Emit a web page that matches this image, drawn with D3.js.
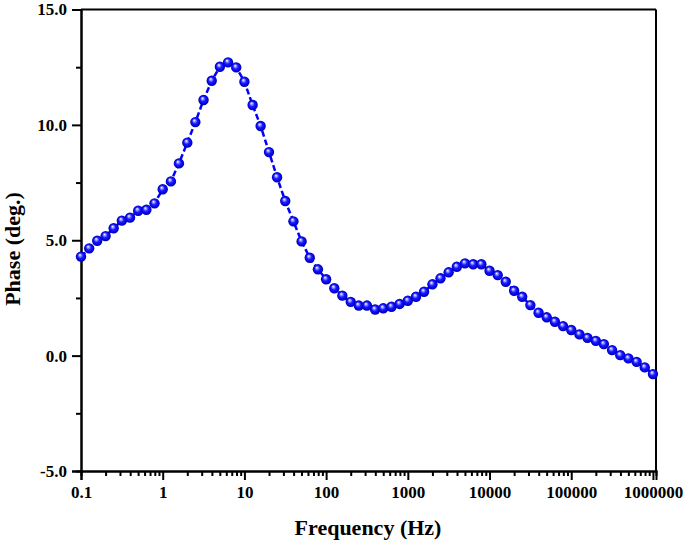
<!DOCTYPE html>
<html>
<head>
<meta charset="utf-8">
<script src="https://cdn.jsdelivr.net/npm/d3@7"></script>
<style>
  html, body { margin: 0; padding: 0; background: #fff; }
  svg { display: block; }
  text { font-family: "Liberation Serif", "Times New Roman", serif; font-weight: bold; fill: #000; }
</style>
</head>
<body>
<svg id="chart" width="685" height="544"></svg>
<script>
// ---- data ----
const frequencies = [
  0.1, 0.126, 0.158, 0.2, 0.251, 0.316, 0.398, 0.501, 0.631, 0.794,
  1, 1.26, 1.58, 2, 2.51, 3.16, 3.98, 5.01, 6.31, 7.94,
  10, 12.6, 15.8, 20, 25.1, 31.6, 39.8, 50.1, 63.1, 79.4,
  100, 126, 158, 200, 251, 316, 398, 501, 631, 794,
  1000, 1260, 1580, 2000, 2510, 3160, 3980, 5010, 6310, 7940,
  10000, 12600, 15800, 20000, 25100, 31600, 39800, 50100, 63100, 79400,
  100000, 126000, 158000, 200000, 251000, 316000, 398000, 501000, 631000, 794000,
  1000000
];
const phase = [
  4.29, 4.65, 4.98, 5.18, 5.52, 5.85, 5.98, 6.28, 6.32, 6.60,
  7.21, 7.55, 8.33, 9.23, 10.12, 11.08, 11.91, 12.52, 12.71, 12.49,
  11.87, 10.86, 9.95, 8.82, 7.73, 6.70, 5.82, 4.95, 4.24, 3.74,
  3.31, 2.92, 2.60, 2.33, 2.17, 2.17, 2.00, 2.05, 2.12, 2.24,
  2.38, 2.55, 2.77, 3.09, 3.35, 3.61, 3.85, 4.00, 3.96, 3.96,
  3.68, 3.49, 3.20, 2.81, 2.55, 2.19, 1.86, 1.66, 1.47, 1.28,
  1.11, 0.92, 0.77, 0.64, 0.50, 0.24, 0.02, -0.12, -0.27, -0.51,
  -0.80
];
const xTickValues = [0.1, 1, 10, 100, 1000, 10000, 100000, 1000000];
const xTickLabels = ["0.1", "1", "10", "100", "1000", "10000", "100000", "1000000"];
const yTickValues = [-5, 0, 5, 10, 15];
const yTickLabels = ["-5.0", "0.0", "5.0", "10.0", "15.0"];
const yMinorValues = [-2.5, 2.5, 7.5, 12.5];
const xTitle = "Frequency (Hz)";
const yTitle = "Phase (deg.)";

(function () {
const data = frequencies.map((f, i) => ({ f, v: phase[i] }));

// ---- layout ----
const pLeft = 81, pRight = 656, pTop = 9.5, pBottom = 471;
const svg = d3.select("#chart");

const x = d3.scaleLog().domain([0.1, 1.09e6]).range([pLeft, pRight]);
const y = d3.scaleLinear().domain([-5, 15]).range([pBottom, pTop]);

// gradient for spheres
const defs = svg.append("defs");
const grad = defs.append("radialGradient")
  .attr("id", "ball").attr("cx", "50%").attr("cy", "50%").attr("r", "50%")
  .attr("fx", "38%").attr("fy", "32%");
grad.append("stop").attr("offset", "0%").attr("stop-color", "#ffffff");
grad.append("stop").attr("offset", "22%").attr("stop-color", "#9a9aff");
grad.append("stop").attr("offset", "50%").attr("stop-color", "#1a1aff");
grad.append("stop").attr("offset", "85%").attr("stop-color", "#0000e0");
grad.append("stop").attr("offset", "100%").attr("stop-color", "#00009a");

// frame (top & right)
svg.append("line").attr("x1", pLeft).attr("x2", pRight).attr("y1", pTop).attr("y2", pTop)
  .attr("stroke", "#000").attr("stroke-width", 2);
svg.append("line").attr("x1", pRight).attr("x2", pRight).attr("y1", pTop).attr("y2", pBottom)
  .attr("stroke", "#000").attr("stroke-width", 2);

// x axis
const xMinor = [];
for (let d = -1; d < 6; d++) for (let m = 2; m <= 9; m++) xMinor.push(m * Math.pow(10, d));

const xAxisG = svg.append("g").attr("transform", `translate(0,${pBottom})`);
xAxisG.call(d3.axisBottom(x).tickValues(xMinor).tickSize(5).tickFormat(""));
xAxisG.append("g").call(d3.axisBottom(x).tickValues(xTickValues).tickSize(9)
  .tickFormat((d, i) => xTickLabels[i]).tickPadding(6));
xAxisG.selectAll("path.domain").attr("stroke-width", 2).attr("stroke", "#000");
xAxisG.selectAll(".tick line").attr("stroke-width", 2).attr("stroke", "#000");
xAxisG.selectAll(".tick text").style("font-size", "17px").style("font-family", "Liberation Serif").style("font-weight", "bold").attr("fill", "#000");
xAxisG.select("g").select("path.domain").remove();

// y axis
const yAxisG = svg.append("g").attr("transform", `translate(${pLeft},0)`);
yAxisG.call(d3.axisLeft(y).tickValues(yMinorValues).tickSize(5).tickFormat(""));
yAxisG.append("g").call(d3.axisLeft(y).tickValues(yTickValues).tickSize(9)
  .tickFormat((d, i) => yTickLabels[i]).tickPadding(5));
yAxisG.selectAll("path.domain").attr("stroke-width", 2).attr("stroke", "#000");
yAxisG.selectAll(".tick line").attr("stroke-width", 2).attr("stroke", "#000");
yAxisG.selectAll(".tick text").style("font-size", "17px").style("font-family", "Liberation Serif").style("font-weight", "bold").attr("fill", "#000");
yAxisG.select("g").select("path.domain").remove();

// titles
svg.append("text").attr("x", 368).attr("y", 535)
  .attr("text-anchor", "middle").style("font-size", "22px").text(xTitle);
svg.append("text").attr("transform", `translate(20,249) rotate(-90)`)
  .attr("text-anchor", "middle").style("font-size", "22px").text(yTitle);

// line
const line = d3.line().x(d => x(d.f)).y(d => y(d.v));
svg.append("path").datum(data).attr("d", line)
  .attr("fill", "none").attr("stroke", "#0000ff").attr("stroke-width", 2.5)
  .attr("stroke-dasharray", "6,3");

// balls
svg.append("g").selectAll("circle").data(data).join("circle")
  .attr("cx", d => x(d.f)).attr("cy", d => y(d.v)).attr("r", 5.2)
  .attr("fill", "url(#ball)");
})();
</script>
</body>
</html>
